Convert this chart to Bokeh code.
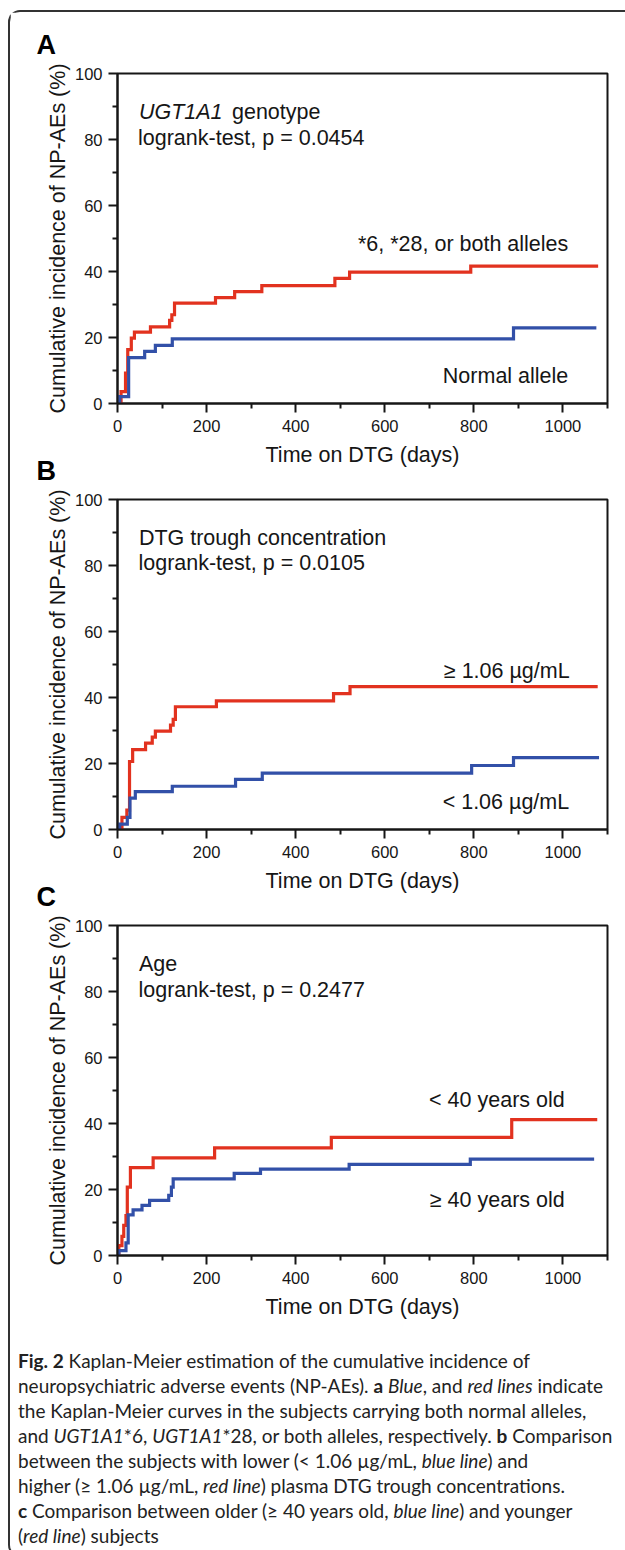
from bokeh.plotting import figure
from bokeh.models import Range1d, FixedTicker, Label, Div, Title
from bokeh.layouts import column
from bokeh.embed import file_html
from bokeh.resources import INLINE

# ---------------- data (days, cumulative incidence %) ----------------
a_red_t = [0, 8, 18, 23, 31, 38, 74, 117, 122, 128, 220, 263, 324, 488, 521, 793, 1079]
a_red_y = [0, 3.6, 9.2, 16.3, 19.8, 21.6, 23.2, 25.2, 26.9, 30.4, 32.1, 33.9, 35.7, 37.9, 39.8, 41.6, 41.6]
a_blue_t = [0, 5, 25, 61, 85, 123, 889, 1075]
a_blue_y = [0, 2.1, 13.9, 15.8, 17.6, 19.6, 22.9, 22.9]

b_red_t = [0, 10, 21, 27, 34, 63, 78, 85, 119, 125, 130, 222, 485, 522, 1078]
b_red_y = [0, 3.7, 5.9, 20.6, 24.2, 26.2, 28.0, 29.8, 31.6, 33.4, 37.2, 39.0, 41.2, 43.3, 43.3]
b_blue_t = [0, 5, 22, 28, 40, 123, 265, 325, 795, 889, 1081]
b_blue_y = [0, 1.6, 3.7, 9.5, 11.5, 13.1, 15.2, 17.1, 19.4, 21.8, 21.8]

c_red_t = [0, 3, 10, 14, 19, 22, 29, 80, 218, 480, 885, 1077]
c_red_y = [0, 3.0, 5.8, 9.1, 12.1, 20.7, 26.6, 29.6, 32.6, 35.8, 41.2, 41.2]
c_blue_t = [0, 3, 19, 24, 35, 55, 72, 115, 121, 125, 262, 321, 520, 792, 1070]
c_blue_y = [0, 1.5, 3.8, 12.3, 13.8, 15.2, 16.7, 18.2, 20.7, 23.2, 24.9, 26.2, 27.6, 29.2, 29.2]

panel_letters = ["A", "B", "C"]
header_first = ["UGT1A1", "DTG trough concentration", "Age"]
header_pvals = ["logrank-test, p = 0.0454", "logrank-test, p = 0.0105", "logrank-test, p = 0.2477"]
red_labels = ["*6, *28, or both alleles", "\u2265 1.06 \u00b5g/mL", "< 40 years old"]
blue_labels = ["Normal allele", "< 1.06 \u00b5g/mL", "\u2265 40 years old"]

x_major = [0, 200, 400, 600, 800, 1000]
x_minor = [100, 300, 500, 700, 900, 1100]
y_major = [0, 20, 40, 60, 80, 100]
y_minor = [10, 30, 50, 70, 90]

RED = "#E2321F"
BLUE = "#3250A8"
INK = "#161616"
FONT = "Liberation Sans"


def make_panel(red_t, red_y, blue_t, blue_y, height, top, bottom):
    p = figure(width=615, height=height, x_range=Range1d(0, 1100), y_range=Range1d(0, 100),
               output_backend="svg", toolbar_location=None,
               min_border_left=107, min_border_right=18,
               min_border_top=top, min_border_bottom=bottom)
    p.grid.visible = False
    p.background_fill_color = "white"
    p.border_fill_color = "white"
    p.outline_line_color = INK
    p.outline_line_width = 2
    p.outline_line_alpha = 1

    p.xaxis.ticker = FixedTicker(ticks=x_major, minor_ticks=x_minor)
    p.yaxis.ticker = FixedTicker(ticks=y_major, minor_ticks=y_minor)
    for ax in (p.xaxis[0], p.yaxis[0]):
        ax.axis_line_color = INK
        ax.axis_line_width = 2
        ax.major_tick_line_color = INK
        ax.major_tick_line_width = 2
        ax.minor_tick_line_color = INK
        ax.minor_tick_line_width = 2
        ax.major_tick_in = 0
        ax.major_tick_out = 9
        ax.minor_tick_in = 0
        ax.minor_tick_out = 5
        ax.major_label_text_font = FONT
        ax.major_label_text_font_size = "16.5px"
        ax.major_label_text_color = INK
        ax.axis_label_text_font = FONT
        ax.axis_label_text_font_size = "21.5px"
        ax.axis_label_text_font_style = "normal"
        ax.axis_label_text_color = INK
    p.xaxis.axis_label = "Time on DTG (days)"
    p.yaxis.axis_label = "Cumulative incidence of NP-AEs (%)"
    p.xaxis.major_label_standoff = 7
    p.xaxis.axis_label_standoff = 8
    p.yaxis.major_label_standoff = 6
    p.yaxis.axis_label_standoff = 2

    p.step(red_t, red_y, mode="after", line_color=RED, line_width=3.2, line_join="miter")
    p.step(blue_t, blue_y, mode="after", line_color=BLUE, line_width=3.2, line_join="miter")
    return p


def txt(p, x, y, s, align="left", size="21.5px", style="normal", baseline="alphabetic"):
    p.add_layout(Label(x=x, y=y, text=s, text_font=FONT, text_font_size=size,
                       text_font_style=style, text_color=INK, text_align=align,
                       text_baseline=baseline))


def letter_below(p, s):
    # panel letter of the next panel, placed in the bottom margin of this panel
    t = Title(text=s, align="left", offset=-81, vertical_align="top", standoff=-28,
              text_font=FONT, text_font_size="27px", text_font_style="bold",
              text_color="black")
    p.add_layout(t, "below")


pa = make_panel(a_red_t, a_red_y, a_blue_t, a_blue_y, 475, 61, 84)
pb = make_panel(b_red_t, b_red_y, b_blue_t, b_blue_y, 426, 12, 84)
pc = make_panel(c_red_t, c_red_y, c_blue_t, c_blue_y, 430, 12, 88)

# panel letter A as the title of panel A
pa.title.text = panel_letters[0]
pa.title.text_font = FONT
pa.title.text_font_size = "27px"
pa.title.text_font_style = "bold"
pa.title.text_color = "black"
pa.title.align = "left"
pa.title.offset = -81
pa.title.standoff = 28

letter_below(pa, panel_letters[1])
letter_below(pb, panel_letters[2])

# headers
txt(pa, 48, 88.2, header_first[0], style="italic")
txt(pa, 257, 88.2, "genotype")
txt(pa, 46, 80.5, header_pvals[0])
txt(pb, 48, 88.4, header_first[1])
txt(pb, 47, 80.8, header_pvals[1])
txt(pc, 48, 88.2, header_first[2])
txt(pc, 47, 80.4, header_pvals[2])

# group labels
txt(pa, 1012, 48.2, red_labels[0], align="right")
txt(pa, 1012, 8.2, blue_labels[0], align="right")
txt(pb, 1015, 48.1, red_labels[1], align="right")
txt(pb, 1014, 8.2, blue_labels[1], align="right")
txt(pc, 1004, 47.0, red_labels[2], align="right")
txt(pc, 1004, 16.7, blue_labels[2], align="right")

caption_html = (
    "<b>Fig. 2</b> Kaplan-Meier estimation of the cumulative incidence of<br>"
    "neuropsychiatric adverse events (NP-AEs). <b>a</b> <i>Blue</i>, and <i>red lines</i> indicate<br>"
    "the Kaplan-Meier curves in the subjects carrying both normal alleles,<br>"
    "and <i>UGT1A1</i>*6, <i>UGT1A1</i>*28, or both alleles, respectively. <b>b</b> Comparison<br>"
    "between the subjects with lower (&lt; 1.06 \u00b5g/mL, <i>blue line</i>) and<br>"
    "higher (\u2265 1.06 \u00b5g/mL, <i>red line</i>) plasma DTG trough concentrations.<br>"
    "<b>c</b> Comparison between older (\u2265 40 years old, <i>blue line</i>) and younger<br>"
    "(<i>red line</i>) subjects"
)
cap = Div(text=caption_html, width=615, height=202,
          styles={"font-family": "Lato", "font-size": "19px", "line-height": "25px",
                  "padding-left": "3px", "color": "#222", "white-space": "nowrap",
                  "box-sizing": "border-box"})

layout = column(pa, pb, pc, cap, margin=(10, 0, 0, 8),
                styles={"border-top": "2px solid #333", "border-left": "2px solid #333",
                        "border-bottom": "2px solid #333",
                        "border-top-left-radius": "12px", "border-bottom-left-radius": "12px"})

open("out.html", "w").write(file_html(layout, INLINE))
